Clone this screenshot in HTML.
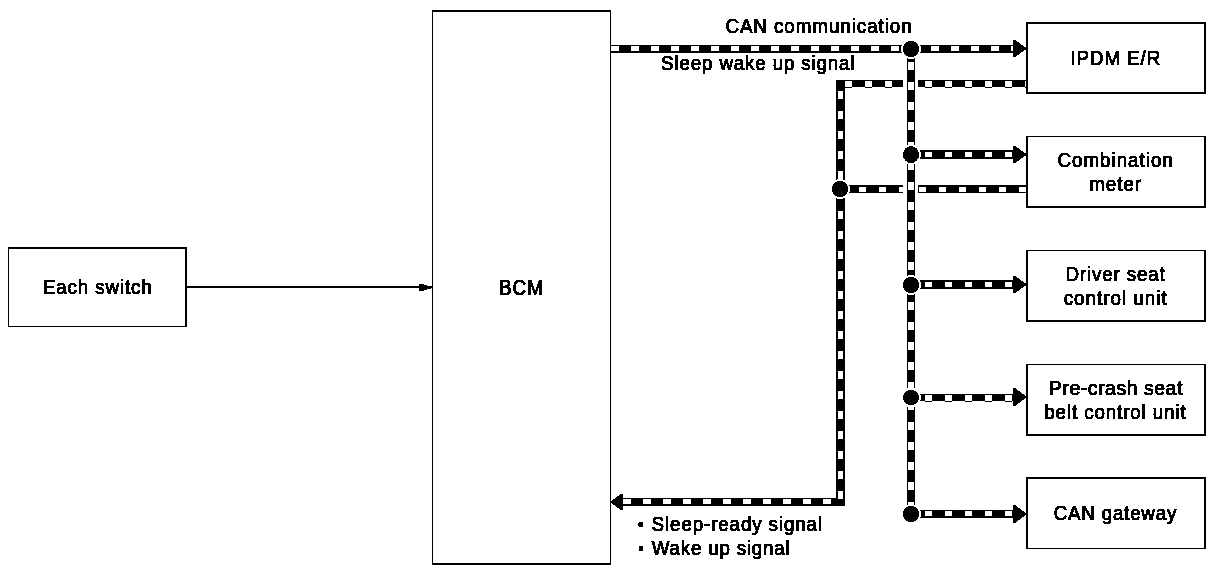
<!DOCTYPE html>
<html lang="en"><head><meta charset="utf-8"><title>BCM sleep / wake-up system diagram</title>
<style>html,body{margin:0;padding:0;background:#fff;overflow:hidden}svg{display:block}text{font-family:"Liberation Sans", sans-serif;fill:#000;stroke:#000;paint-order:stroke}.ce{shape-rendering:crispEdges}.k{fill:#000}.w{fill:#fff}</style></head><body>
<svg width="1216" height="582" viewBox="0 0 1216 582">
<rect width="1216" height="582" fill="#fff"/>
<defs><filter id="bw" x="0" y="0" width="100%" height="100%" filterUnits="userSpaceOnUse" color-interpolation-filters="sRGB"><feComponentTransfer><feFuncR type="discrete" tableValues="0 0"/><feFuncG type="discrete" tableValues="0 0"/><feFuncB type="discrete" tableValues="0 0"/><feFuncA type="discrete" tableValues="0 0 0 0 0 1 1 1 1 1"/></feComponentTransfer></filter></defs>
<g id="rails" class="ce">
<rect class="k" x="836" y="80" width="190" height="7"/><rect class="w" x="845" y="81" width="7" height="6"/><rect class="k" x="845" y="87" width="7" height="1"/><rect class="w" x="865" y="81" width="7" height="6"/><rect class="k" x="865" y="87" width="7" height="1"/><rect class="w" x="885" y="81" width="7" height="6"/><rect class="k" x="885" y="87" width="7" height="1"/><rect class="w" x="905" y="81" width="7" height="6"/><rect class="k" x="905" y="87" width="7" height="1"/><rect class="w" x="925" y="81" width="7" height="6"/><rect class="k" x="925" y="87" width="7" height="1"/><rect class="w" x="945" y="81" width="7" height="6"/><rect class="k" x="945" y="87" width="7" height="1"/><rect class="w" x="965" y="81" width="7" height="6"/><rect class="k" x="965" y="87" width="7" height="1"/><rect class="w" x="985" y="81" width="7" height="6"/><rect class="k" x="985" y="87" width="7" height="1"/><rect class="w" x="1005" y="81" width="7" height="6"/><rect class="k" x="1005" y="87" width="7" height="1"/><rect class="w" x="1025" y="81" width="1" height="6"/><rect class="k" x="1025" y="87" width="1" height="1"/>
<rect class="k" x="840" y="185" width="186" height="8"/><rect class="w" x="840" y="187" width="6" height="5"/><rect class="w" x="859" y="187" width="7" height="5"/><rect class="w" x="879" y="187" width="7" height="5"/><rect class="w" x="899" y="187" width="7" height="5"/><rect class="w" x="919" y="187" width="7" height="5"/><rect class="w" x="939" y="187" width="7" height="5"/><rect class="w" x="959" y="187" width="7" height="5"/><rect class="w" x="979" y="187" width="7" height="5"/><rect class="w" x="999" y="187" width="7" height="5"/><rect class="w" x="1019" y="187" width="7" height="5"/>
<rect class="w" x="903" y="78" width="4" height="12"/><rect class="w" x="915" y="78" width="3" height="12"/>
<rect class="w" x="903" y="183" width="4" height="12"/><rect class="w" x="915" y="183" width="3" height="12"/>
<rect class="k" x="623" y="498" width="222" height="8"/><rect class="w" x="623" y="499" width="8" height="5"/><rect class="w" x="643" y="499" width="8" height="5"/><rect class="w" x="663" y="499" width="8" height="5"/><rect class="w" x="683" y="499" width="8" height="5"/><rect class="w" x="703" y="499" width="8" height="5"/><rect class="w" x="723" y="499" width="8" height="5"/><rect class="w" x="743" y="499" width="8" height="5"/><rect class="w" x="763" y="499" width="8" height="5"/><rect class="w" x="783" y="499" width="8" height="5"/><rect class="w" x="803" y="499" width="8" height="5"/><rect class="w" x="823" y="499" width="8" height="5"/><rect class="w" x="843" y="499" width="2" height="5"/>
<rect class="k" x="836" y="80" width="9" height="426"/><rect class="w" x="838" y="91" width="5" height="8"/><rect class="w" x="838" y="111" width="5" height="8"/><rect class="w" x="838" y="131" width="5" height="8"/><rect class="w" x="838" y="151" width="5" height="8"/><rect class="w" x="838" y="171" width="5" height="8"/><rect class="w" x="838" y="191" width="5" height="8"/><rect class="w" x="838" y="211" width="5" height="8"/><rect class="w" x="838" y="231" width="5" height="8"/><rect class="w" x="838" y="251" width="5" height="8"/><rect class="w" x="838" y="271" width="5" height="8"/><rect class="w" x="838" y="291" width="5" height="8"/><rect class="w" x="838" y="311" width="5" height="8"/><rect class="w" x="838" y="331" width="5" height="8"/><rect class="w" x="838" y="351" width="5" height="8"/><rect class="w" x="838" y="371" width="5" height="8"/><rect class="w" x="838" y="391" width="5" height="8"/><rect class="w" x="838" y="411" width="5" height="8"/><rect class="w" x="838" y="431" width="5" height="8"/><rect class="w" x="838" y="451" width="5" height="8"/><rect class="w" x="838" y="471" width="5" height="8"/><rect class="w" x="838" y="491" width="5" height="8"/>
<rect class="k" x="836" y="80" width="9" height="7"/>
<rect class="k" x="836" y="499" width="9" height="7"/>
<rect class="k" x="611" y="45" width="403" height="8"/><rect class="w" x="611" y="46" width="8" height="5"/><rect class="w" x="631" y="46" width="8" height="5"/><rect class="w" x="651" y="46" width="8" height="5"/><rect class="w" x="671" y="46" width="8" height="5"/><rect class="w" x="691" y="46" width="8" height="5"/><rect class="w" x="711" y="46" width="8" height="5"/><rect class="w" x="731" y="46" width="8" height="5"/><rect class="w" x="751" y="46" width="8" height="5"/><rect class="w" x="771" y="46" width="8" height="5"/><rect class="w" x="791" y="46" width="8" height="5"/><rect class="w" x="811" y="46" width="8" height="5"/><rect class="w" x="831" y="46" width="8" height="5"/><rect class="w" x="851" y="46" width="8" height="5"/><rect class="w" x="871" y="46" width="8" height="5"/><rect class="w" x="891" y="46" width="8" height="5"/><rect class="w" x="911" y="46" width="8" height="5"/><rect class="w" x="931" y="46" width="8" height="5"/><rect class="w" x="951" y="46" width="8" height="5"/><rect class="w" x="971" y="46" width="8" height="5"/><rect class="w" x="991" y="46" width="8" height="5"/><rect class="w" x="1011" y="46" width="3" height="5"/>
<rect class="k" x="911" y="150" width="103" height="9"/><rect class="w" x="911" y="152" width="1" height="5"/><rect class="w" x="925" y="152" width="7" height="5"/><rect class="w" x="945" y="152" width="7" height="5"/><rect class="w" x="965" y="152" width="7" height="5"/><rect class="w" x="985" y="152" width="7" height="5"/><rect class="w" x="1005" y="152" width="7" height="5"/>
<rect class="k" x="911" y="280" width="103" height="9"/><rect class="w" x="911" y="282" width="1" height="5"/><rect class="w" x="925" y="282" width="7" height="5"/><rect class="w" x="945" y="282" width="7" height="5"/><rect class="w" x="965" y="282" width="7" height="5"/><rect class="w" x="985" y="282" width="7" height="5"/><rect class="w" x="1005" y="282" width="7" height="5"/>
<rect class="k" x="911" y="394" width="103" height="7"/><rect class="w" x="911" y="395" width="1" height="6"/><rect class="k" x="911" y="401" width="1" height="1"/><rect class="w" x="925" y="395" width="7" height="6"/><rect class="k" x="925" y="401" width="7" height="1"/><rect class="w" x="945" y="395" width="7" height="6"/><rect class="k" x="945" y="401" width="7" height="1"/><rect class="w" x="965" y="395" width="7" height="6"/><rect class="k" x="965" y="401" width="7" height="1"/><rect class="w" x="985" y="395" width="7" height="6"/><rect class="k" x="985" y="401" width="7" height="1"/><rect class="w" x="1005" y="395" width="7" height="6"/><rect class="k" x="1005" y="401" width="7" height="1"/>
<rect class="k" x="911" y="510" width="103" height="8"/><rect class="w" x="911" y="511" width="1" height="5"/><rect class="w" x="925" y="511" width="7" height="5"/><rect class="w" x="945" y="511" width="7" height="5"/><rect class="w" x="965" y="511" width="7" height="5"/><rect class="w" x="985" y="511" width="7" height="5"/><rect class="w" x="1005" y="511" width="7" height="5"/>
<rect class="k" x="907" y="49" width="8" height="465"/><rect class="w" x="908" y="49" width="6" height="1"/><rect class="w" x="908" y="62" width="6" height="8"/><rect class="w" x="908" y="82" width="6" height="8"/><rect class="w" x="908" y="102" width="6" height="8"/><rect class="w" x="908" y="122" width="6" height="8"/><rect class="w" x="908" y="142" width="6" height="8"/><rect class="w" x="908" y="162" width="6" height="8"/><rect class="w" x="908" y="182" width="6" height="8"/><rect class="w" x="908" y="202" width="6" height="8"/><rect class="w" x="908" y="222" width="6" height="8"/><rect class="w" x="908" y="242" width="6" height="8"/><rect class="w" x="908" y="262" width="6" height="8"/><rect class="w" x="908" y="282" width="6" height="8"/><rect class="w" x="908" y="302" width="6" height="8"/><rect class="w" x="908" y="322" width="6" height="8"/><rect class="w" x="908" y="342" width="6" height="8"/><rect class="w" x="908" y="362" width="6" height="8"/><rect class="w" x="908" y="382" width="6" height="8"/><rect class="w" x="908" y="402" width="6" height="8"/><rect class="w" x="908" y="422" width="6" height="8"/><rect class="w" x="908" y="442" width="6" height="8"/><rect class="w" x="908" y="462" width="6" height="8"/><rect class="w" x="908" y="482" width="6" height="8"/><rect class="w" x="908" y="502" width="6" height="8"/>
</g>
<g id="halos" class="w ce">
<circle cx="911" cy="49" r="10"/>
<circle cx="911" cy="154.5" r="10"/>
<circle cx="840" cy="189" r="10"/>
<circle cx="911" cy="285" r="10"/>
<circle cx="911" cy="397.5" r="10"/>
<circle cx="911" cy="514" r="10"/>
</g>
<g id="dots" class="k" filter="url(#bw)">
<ellipse cx="911" cy="49" rx="8.1" ry="8.1"/>
<ellipse cx="911" cy="154.5" rx="8.1" ry="8.6"/>
<ellipse cx="840" cy="189" rx="8.1" ry="8.1"/>
<ellipse cx="911" cy="285" rx="8.1" ry="8.1"/>
<ellipse cx="911" cy="397.5" rx="8.1" ry="7.6"/>
<ellipse cx="911" cy="514" rx="8.1" ry="8.1"/>
</g>
<g id="arrows" class="k ce">
<polygon points="1013,40 1015,40 1026.5,48.0 1026.5,49.0 1015,57 1013,57"/>
<polygon points="1013,146 1015,146 1026.5,154.0 1026.5,155.0 1015,163 1013,163"/>
<polygon points="1013,276 1015,276 1026.5,284.0 1026.5,285.0 1015,293 1013,293"/>
<polygon points="1013,388 1015,388 1026.5,396.5 1026.5,397.5 1015,406 1013,406"/>
<polygon points="1013,505 1015,505 1026.5,513.5 1026.5,514.5 1015,523 1013,523"/>
<polygon points="623,494 621,494 610.5,501.5 610.5,502.5 621,510 623,510"/>
<rect class="k" x="187" y="286" width="245" height="2"/>
<rect class="k" x="419" y="284" width="5" height="7"/><rect class="k" x="424" y="285" width="3" height="5"/><rect class="k" x="427" y="286" width="4" height="3"/>
</g>
<g id="boxes" class="ce">
<rect class="k" x="8" y="247" width="179" height="80"/><rect class="w" x="9" y="249" width="176" height="77"/>
<rect class="k" x="432" y="10" width="179" height="555"/><rect class="w" x="433" y="12" width="177" height="551"/>
<rect class="k" x="1026" y="22" width="180" height="72"/><rect class="w" x="1028" y="24" width="176" height="68"/>
<rect class="k" x="1026" y="136" width="180" height="72"/><rect class="w" x="1028" y="137" width="176" height="69"/>
<rect class="k" x="1026" y="250" width="180" height="72"/><rect class="w" x="1028" y="251" width="176" height="69"/>
<rect class="k" x="1026" y="364" width="180" height="72"/><rect class="w" x="1028" y="365" width="176" height="69"/>
<rect class="k" x="1026" y="477" width="180" height="72"/><rect class="w" x="1028" y="479" width="176" height="69"/>
</g>
<g id="labels" filter="url(#bw)">
<text transform="translate(42.92,294.00) scale(0.96,1)" font-size="19.5" letter-spacing="0.933" stroke-width="0.95">Each switch</text>
<text transform="translate(498.88,294.80) scale(0.86,1)" font-size="22.0" letter-spacing="1.279" stroke-width="1.0">BCM</text>
<text transform="translate(725.41,32.90) scale(0.96,1)" font-size="19.5" letter-spacing="1.018" stroke-width="0.95">CAN communication</text>
<text transform="translate(661.11,70.40) scale(0.96,1)" font-size="19.5" letter-spacing="0.909" stroke-width="0.95">Sleep wake up signal</text>
<text transform="translate(651.61,530.90) scale(0.96,1)" font-size="19.5" letter-spacing="0.946" stroke-width="0.95">Sleep-ready signal</text>
<text transform="translate(651.77,554.90) scale(0.96,1)" font-size="19.5" letter-spacing="0.852" stroke-width="0.95">Wake up signal</text>
<text transform="translate(1070.33,64.70) scale(0.96,1)" font-size="19.5" letter-spacing="1.008" stroke-width="0.95">IPDM E/R</text>
<text transform="translate(1057.51,166.70) scale(0.96,1)" font-size="19.5" letter-spacing="1.058" stroke-width="0.95">Combination</text>
<text transform="translate(1089.21,190.50) scale(0.96,1)" font-size="19.5" letter-spacing="1.039" stroke-width="0.95">meter</text>
<text transform="translate(1065.52,280.60) scale(0.96,1)" font-size="19.5" letter-spacing="0.923" stroke-width="0.95">Driver seat</text>
<text transform="translate(1063.66,304.60) scale(0.96,1)" font-size="19.5" letter-spacing="1.084" stroke-width="0.95">control unit</text>
<text transform="translate(1048.87,394.90) scale(0.96,1)" font-size="20.2" letter-spacing="0.587" stroke-width="0.95">Pre-crash seat</text>
<text transform="translate(1044.25,418.90) scale(0.96,1)" font-size="19.5" letter-spacing="0.943" stroke-width="0.95">belt control unit</text>
<text transform="translate(1053.71,520.10) scale(0.96,1)" font-size="19.5" letter-spacing="0.846" stroke-width="0.95">CAN gateway</text>
</g>
<g class="k ce"><rect class="k" x="638" y="523" width="1" height="3"/><rect class="k" x="639" y="522" width="4" height="5"/><rect class="k" x="639" y="546" width="4" height="5"/></g>
</svg></body></html>
